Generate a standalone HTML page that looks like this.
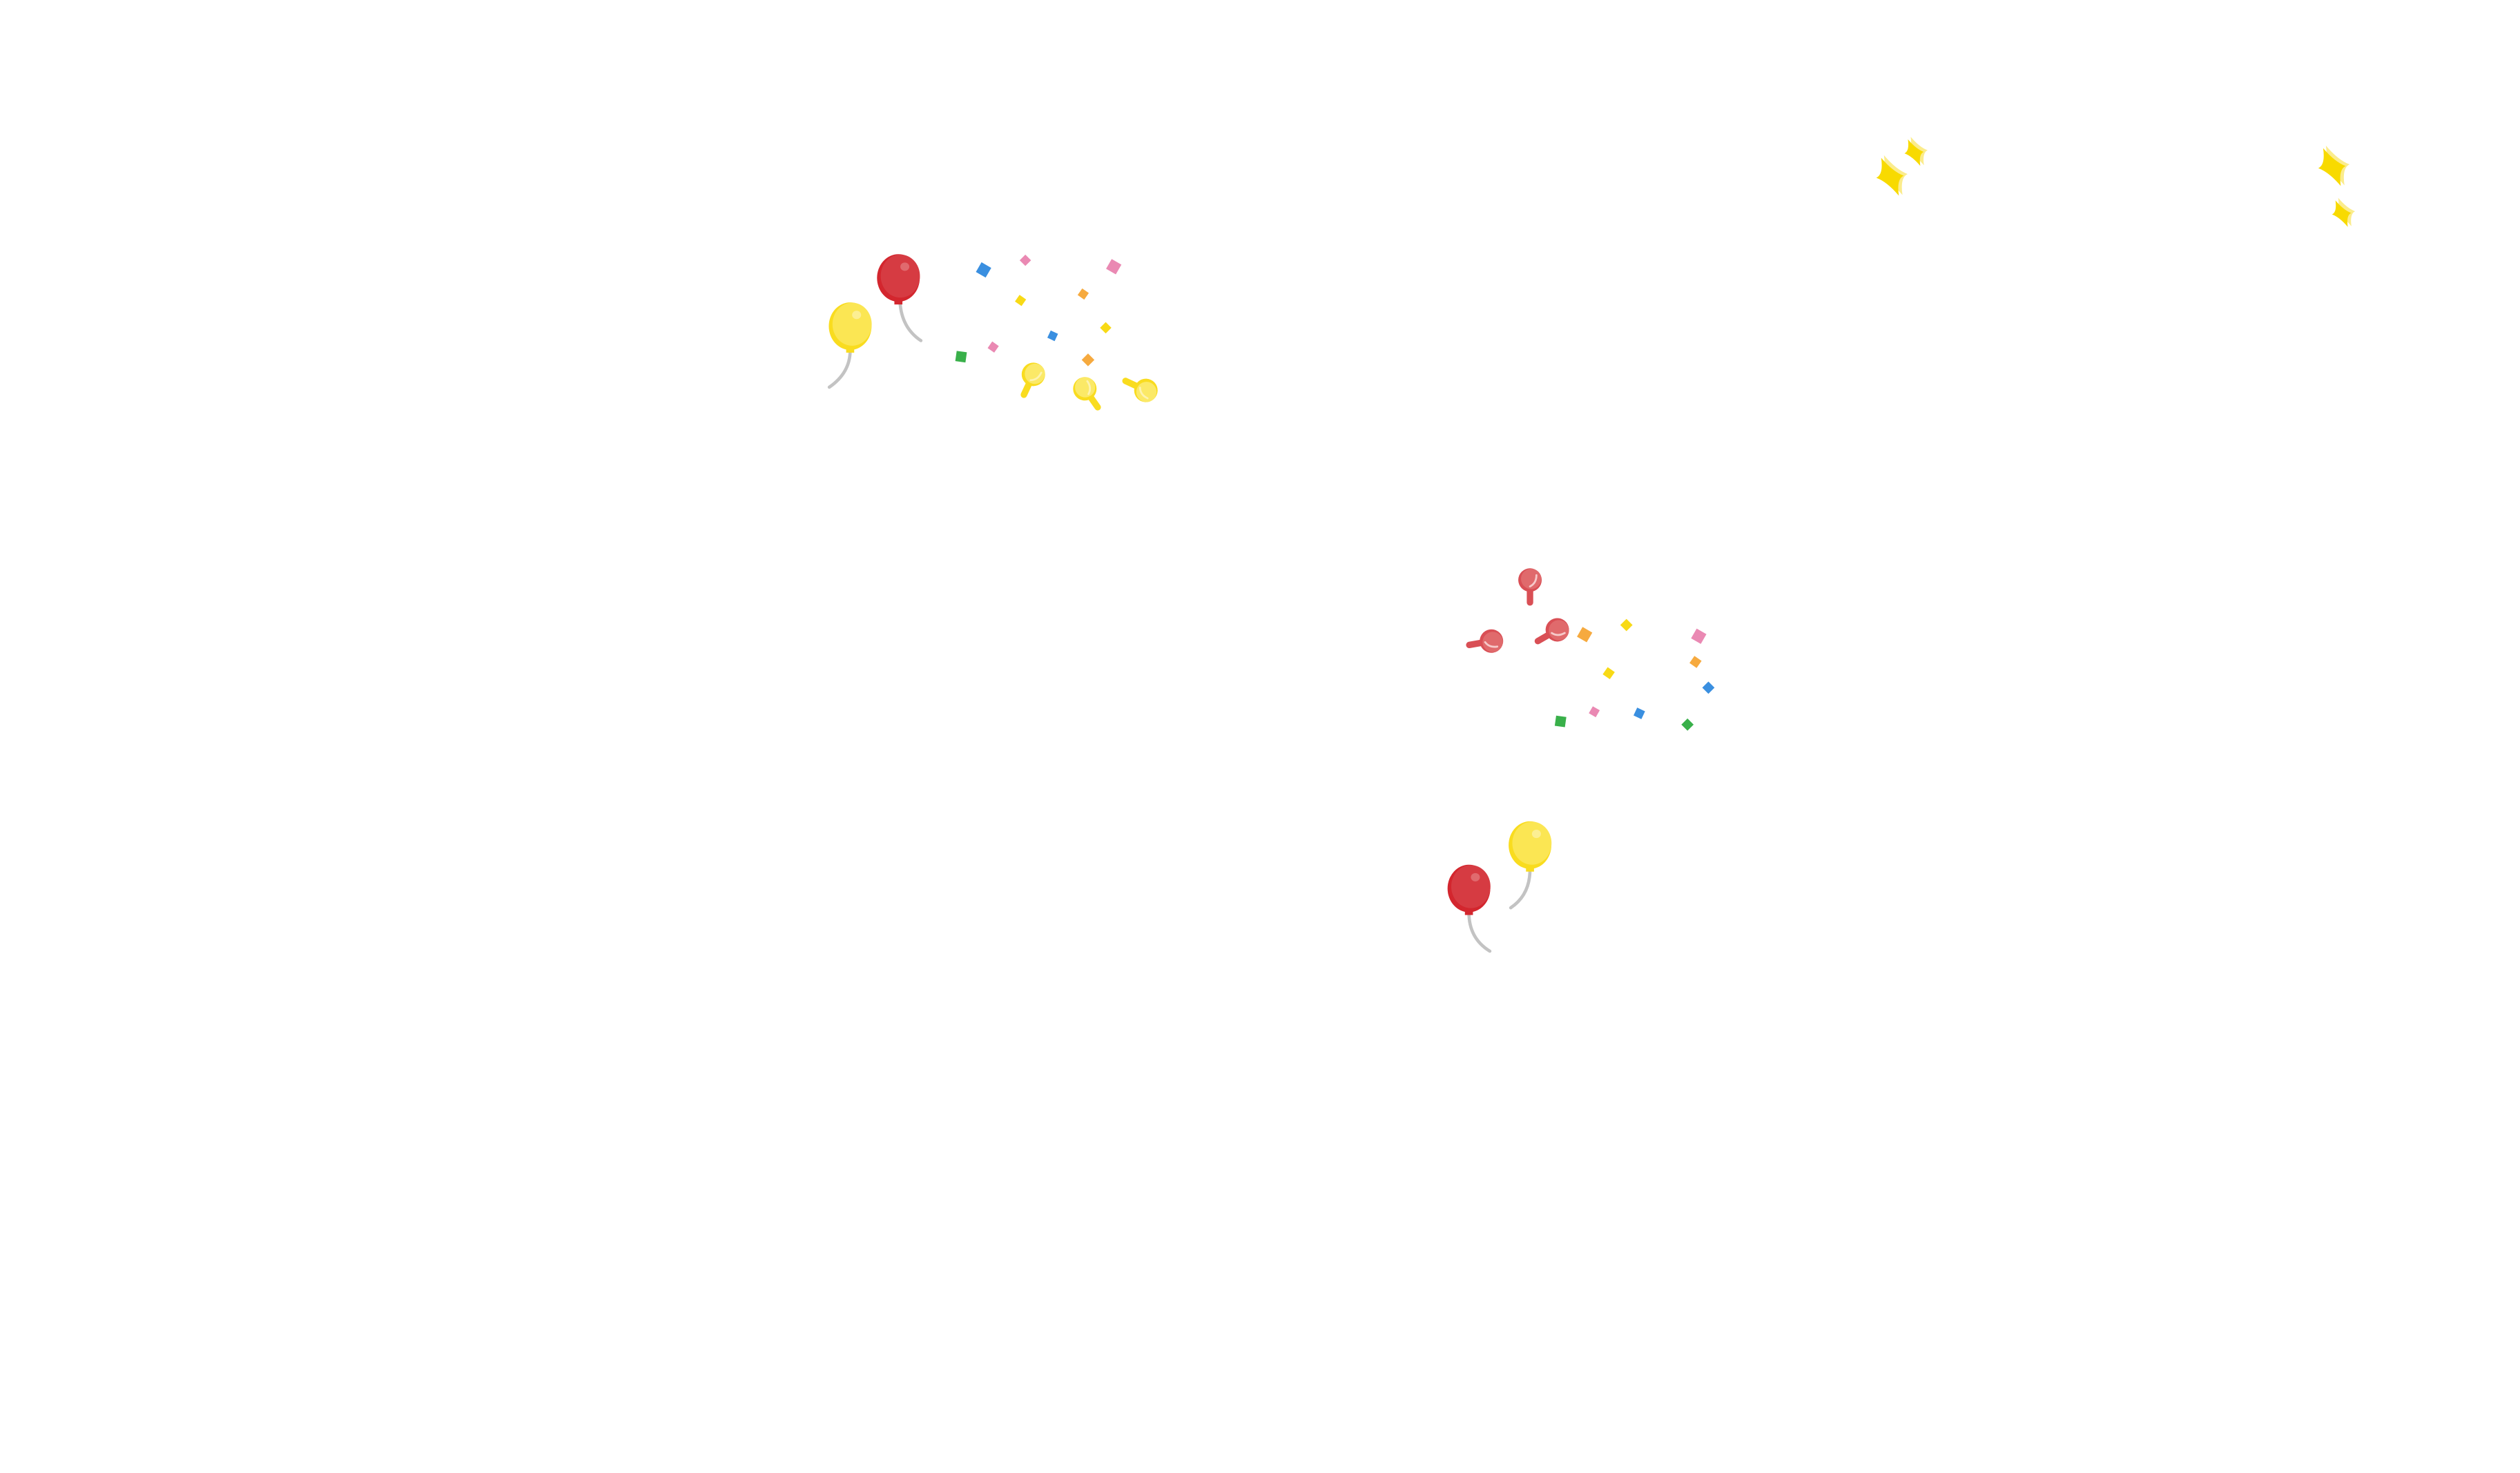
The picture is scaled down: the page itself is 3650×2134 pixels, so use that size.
<!DOCTYPE html>
<html><head><meta charset="utf-8"><style>
html,body{margin:0;padding:0;background:#fff;}
svg{display:block;}
</style></head><body>
<svg width="3650" height="2134" viewBox="0 0 1568 916.8" preserveAspectRatio="none" xmlns="http://www.w3.org/2000/svg">
<defs>
  <g id="bY">
    <ellipse cx="0" cy="0" rx="13.3" ry="14.8" fill="#f9dc1f"/>
    <ellipse cx="1.2" cy="-1.2" rx="12.2" ry="13.4" fill="#fbe653"/>
    <ellipse cx="4" cy="-7" rx="2.8" ry="2.6" fill="#fcef93"/>
    <rect x="-2.5" y="13.5" width="5" height="3" fill="#f9dc1f"/>
  </g>
  <g id="bR">
    <ellipse cx="0" cy="0" rx="13.3" ry="14.8" fill="#d3262e"/>
    <ellipse cx="1.2" cy="-1.2" rx="12.2" ry="13.4" fill="#d63b42"/>
    <ellipse cx="4" cy="-7" rx="2.8" ry="2.6" fill="#e06a6e"/>
    <rect x="-2.5" y="13.5" width="5" height="3" fill="#d3262e"/>
  </g>
  <g id="sY">
    <line x1="0" y1="0" x2="0" y2="14" stroke="#f9dc1f" stroke-width="4" stroke-linecap="round"/>
    <circle cx="0" cy="0" r="7.3" fill="#f9dc1f"/>
    <circle cx="0.7" cy="-0.7" r="6.3" fill="#fbe967"/>
    <path d="M4,-3 Q4,2 0,4" stroke="#fdf3b0" stroke-width="1.2" fill="none" stroke-linecap="round"/>
  </g>
  <g id="sR">
    <line x1="0" y1="0" x2="0" y2="14" stroke="#d94f55" stroke-width="4" stroke-linecap="round"/>
    <circle cx="0" cy="0" r="7.3" fill="#d94f55"/>
    <circle cx="0.7" cy="-0.7" r="6.3" fill="#e06a6c"/>
    <path d="M4,-3 Q4,2 0,4" stroke="#f6c9c9" stroke-width="1.2" fill="none" stroke-linecap="round"/>
  </g>
  <path id="spk" d="M0,-13 Q3,-2 8,3 Q3,3 0,13 Q-3,2 -8,-3 Q-3,-3 0,-13Z"/>
</defs>

<path d="M529,218 Q529,232 516,241" stroke="#c3c3c3" stroke-width="2" fill="none" stroke-linecap="round"/>
<use href="#bY" x="529" y="203"/>
<path d="M560,188 Q561,204 573,212" stroke="#c3c3c3" stroke-width="2" fill="none" stroke-linecap="round"/>
<use href="#bR" x="559" y="173"/>

<g>
<rect x="-3.5" y="-3.5" width="7" height="7" fill="#3a8fe0" transform="translate(612,168) rotate(30)"/>
<rect x="-2.5" y="-2.5" width="5" height="5" fill="#ea89b3" transform="translate(638,162) rotate(45)"/>
<rect x="-3.5" y="-3.5" width="7" height="7" fill="#ea89b3" transform="translate(693,166) rotate(30)"/>
<rect x="-2.5" y="-2.5" width="5" height="5" fill="#f8da16" transform="translate(635,187) rotate(35)"/>
<rect x="-2.5" y="-2.5" width="5" height="5" fill="#f6aa3f" transform="translate(674,183) rotate(35)"/>
<rect x="-2.5" y="-2.5" width="5" height="5" fill="#3a8fe0" transform="translate(655,209) rotate(25)"/>
<rect x="-2.5" y="-2.5" width="5" height="5" fill="#f8da16" transform="translate(688,204) rotate(45)"/>
<rect x="-2.5" y="-2.5" width="5" height="5" fill="#ea89b3" transform="translate(618,216) rotate(35)"/>
<rect x="-3.2" y="-3.2" width="6.4" height="6.4" fill="#39b04a" transform="translate(598,222) rotate(8)"/>
<rect x="-2.8" y="-2.8" width="5.6" height="5.6" fill="#f6aa3f" transform="translate(677,224) rotate(45)"/>
</g>
<use href="#sY" transform="translate(643,233) rotate(25)"/>
<use href="#sY" transform="translate(675,242) rotate(-35)"/>
<use href="#sY" transform="translate(713,243) rotate(115)"/>

<use href="#sR" transform="translate(952,361)"/>
<use href="#sR" transform="translate(928,399) rotate(80)"/>
<use href="#sR" transform="translate(969,392) rotate(60)"/>
<g>
<rect x="-3.5" y="-3.5" width="7" height="7" fill="#f6aa3f" transform="translate(986,395) rotate(30)"/>
<rect x="-2.7" y="-2.7" width="5.4" height="5.4" fill="#f8da16" transform="translate(1012,389) rotate(45)"/>
<rect x="-3.5" y="-3.5" width="7" height="7" fill="#ea89b3" transform="translate(1057,396) rotate(30)"/>
<rect x="-2.7" y="-2.7" width="5.4" height="5.4" fill="#f6aa3f" transform="translate(1055,412) rotate(35)"/>
<rect x="-2.7" y="-2.7" width="5.4" height="5.4" fill="#f8da16" transform="translate(1001,419) rotate(35)"/>
<rect x="-2.7" y="-2.7" width="5.4" height="5.4" fill="#3a8fe0" transform="translate(1063,428) rotate(45)"/>
<rect x="-3.2" y="-3.2" width="6.4" height="6.4" fill="#39b04a" transform="translate(971,449) rotate(8)"/>
<rect x="-2.5" y="-2.5" width="5" height="5" fill="#ea89b3" transform="translate(992,443) rotate(30)"/>
<rect x="-2.7" y="-2.7" width="5.4" height="5.4" fill="#3a8fe0" transform="translate(1020,444) rotate(25)"/>
<rect x="-2.7" y="-2.7" width="5.4" height="5.4" fill="#39b04a" transform="translate(1050,451) rotate(45)"/>
</g>

<path d="M914,568 Q914,584 927,592" stroke="#c3c3c3" stroke-width="2" fill="none" stroke-linecap="round"/>
<use href="#bR" x="914" y="553"/>
<path d="M952,541 Q952,557 940,565" stroke="#c3c3c3" stroke-width="2" fill="none" stroke-linecap="round"/>
<use href="#bY" x="952" y="526"/>

<g fill="#fbec8c">
<use href="#spk" transform="translate(1178,109) rotate(-25) scale(1.05)"/>
<use href="#spk" transform="translate(1193,94) rotate(-25) scale(0.75)"/>
<use href="#spk" transform="translate(1453,103) rotate(-25) scale(1.05)"/>
<use href="#spk" transform="translate(1459,132) rotate(-25) scale(0.75)"/>
</g>
<g fill="#f8da00">
<use href="#spk" transform="translate(1176,110) rotate(-25) scale(1.0)"/>
<use href="#spk" transform="translate(1191,95) rotate(-25) scale(0.7)"/>
<use href="#spk" transform="translate(1451,104) rotate(-25) scale(1.0)"/>
<use href="#spk" transform="translate(1457,133) rotate(-25) scale(0.7)"/>
</g>
</svg>
</body></html>
